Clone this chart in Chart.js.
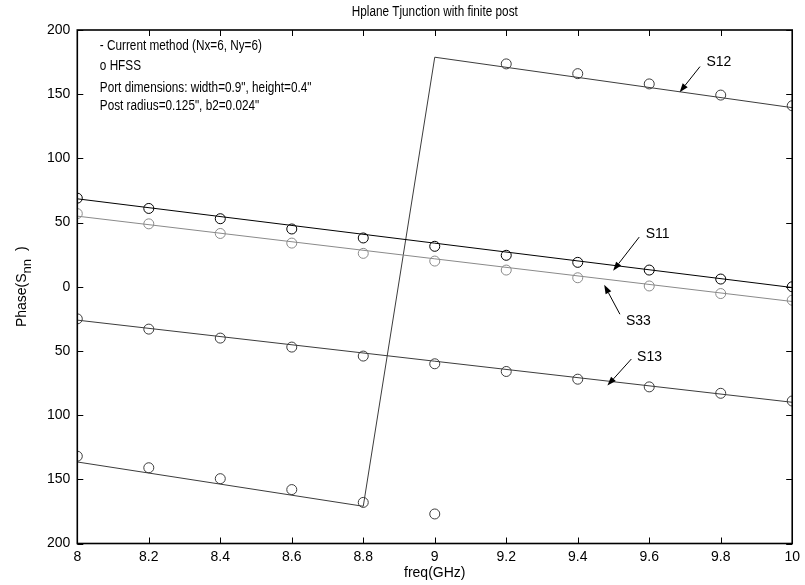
<!DOCTYPE html>
<html><head><meta charset="utf-8">
<script src="https://cdn.jsdelivr.net/npm/chart.js@4/dist/chart.umd.min.js"></script>
<style>html,body{margin:0;padding:0;background:#fff}#wrap{width:805px;height:585px;position:relative}</style>
</head><body><div id="wrap"><canvas id="c" width="805" height="585"></canvas></div>
<script>
// ---- data ----
const freqs = [8.0, 8.2, 8.4, 8.6, 8.8, 9.0, 9.2, 9.4, 9.6, 9.8, 10.0];
const hfssS11 = [69, 61, 53, 45, 38, 31.5, 24.5, 19, 13, 6, 0];
const hfssS33 = [57, 49, 41.5, 34, 26, 20, 13, 7, 0.6, -5.3, -10.5];
const hfssS13 = [-25, -33, -40, -47, -54, -60, -66, -72, -78, -83, -89];
const hfssS12 = [-132, -141, -149.5, -158, -168, -177, 173.6, 166, 158, 149.3, 141];
const modelFreqs = [8.0, 10.0];
const modelS11 = [68.5, -0.6];
const modelS33 = [55, -11.5];
const modelS13 = [-26, -90];
const modelS12Freqs = [8.0, 8.8, 9.0, 10.0];
const modelS12 = [-136.5, -171, 178.8, 139.5];
const xTicks = [8, 8.2, 8.4, 8.6, 8.8, 9, 9.2, 9.4, 9.6, 9.8, 10];
const yTicks = [-200, -150, -100, -50, 0, 50, 100, 150, 200];

const titleText = 'Hplane Tjunction with finite post';
const xTitle = 'freq(GHz)';
const infoLines = ['- Current method (Nx=6, Ny=6)', 'o HFSS', 'Port dimensions: width=0.9", height=0.4"', 'Post radius=0.125", b2=0.024"'];
// annotation anchors in data coordinates
const infoAnchors = [[8.063, 187.5], [8.063, 172], [8.063, 155], [8.063, 141]];
const arrows = [
  {label: 'S12', text: [9.76, 175], tail: [9.742, 171.5], head: [9.685, 151.5]},
  {label: 'S11', text: [9.59, 40.8], tail: [9.572, 38.7], head: [9.499, 12.5]},
  {label: 'S33', text: [9.535, -27.0], tail: [9.518, -21.4], head: [9.474, 1.5]},
  {label: 'S13', text: [9.566, -55.0], tail: [9.550, -56.3], head: [9.483, -77.0]}
];

const FONT = "'Liberation Sans', Arial, sans-serif";
const NARROW = 0.84;
const pts = (xs, ys) => xs.map((x, i) => ({x: x, y: ys[i]}));

function lineDs(xs, ys, color) {
  return {data: pts(xs, ys), showLine: true, borderColor: color, borderWidth: 1, pointRadius: 0, fill: false, tension: 0};
}
function circDs(ys, color) {
  return {data: pts(freqs, ys), showLine: false, pointStyle: 'circle', pointRadius: 5, pointBorderWidth: 1,
    borderColor: color, backgroundColor: 'rgba(0,0,0,0)', pointBackgroundColor: 'rgba(0,0,0,0)', pointBorderColor: color};
}
function narrowText(ctx, s, x, y, align) {
  ctx.save();
  ctx.translate(x, y);
  ctx.scale(NARROW, 1);
  ctx.textAlign = align;
  ctx.fillText(s, 0, 0);
  ctx.restore();
}

const framePlugin = {
  id: 'frame',
  afterDraw(chart) {
    const ctx = chart.ctx, a = chart.chartArea, xs = chart.scales.x, ys = chart.scales.y;
    ctx.save();
    ctx.strokeStyle = '#000';
    ctx.lineWidth = 1;
    xs.ticks.forEach(t => {
      const px = Math.round(xs.getPixelForValue(t.value)) + 0.5;
      ctx.beginPath(); ctx.moveTo(px, a.bottom); ctx.lineTo(px, a.bottom - 6); ctx.stroke();
      ctx.beginPath(); ctx.moveTo(px, a.top); ctx.lineTo(px, a.top + 6); ctx.stroke();
    });
    ys.ticks.forEach(t => {
      const py = Math.round(ys.getPixelForValue(t.value)) + 0.5;
      ctx.beginPath(); ctx.moveTo(a.left, py); ctx.lineTo(a.left + 6, py); ctx.stroke();
      ctx.beginPath(); ctx.moveTo(a.right, py); ctx.lineTo(a.right - 6, py); ctx.stroke();
    });
    ctx.lineWidth = 1.6;
    ctx.strokeRect(a.left, a.top, a.right - a.left, a.bottom - a.top);
    ctx.fillStyle = '#000';
    // title centred over the plot
    ctx.font = '14px ' + FONT;
    ctx.textBaseline = 'middle';
    narrowText(ctx, titleText, (a.left + a.right) / 2, 12, 'center');
    // y axis title with subscript
    ctx.translate(22, (a.top + a.bottom) / 2);
    ctx.rotate(-Math.PI / 2);
    ctx.textBaseline = 'middle';
    const p1 = 'Phase(S', sub = 'nn', p2 = ' )';
    ctx.font = '14px ' + FONT; const w1 = ctx.measureText(p1).width;
    ctx.font = '13px ' + FONT; const ws = ctx.measureText(sub).width;
    ctx.font = '14px ' + FONT; const w2 = ctx.measureText(p2).width;
    const tot = w1 + ws + w2 + 4;
    const x0 = -tot / 2;
    ctx.textAlign = 'left';
    ctx.font = '14px ' + FONT;
    ctx.fillText(p1, x0, 0);
    ctx.font = '13px ' + FONT;
    ctx.fillText(sub, x0 + w1, 5);
    ctx.font = '14px ' + FONT;
    ctx.fillText(p2, x0 + w1 + ws + 4, 0);
    ctx.restore();
  },
  afterDatasetsDraw(chart) {
    const ctx = chart.ctx, xs = chart.scales.x, ys = chart.scales.y;
    const P = d => [xs.getPixelForValue(d[0]), ys.getPixelForValue(d[1])];
    ctx.save();
    ctx.fillStyle = '#000';
    ctx.font = '14px ' + FONT;
    ctx.textBaseline = 'middle';
    infoLines.forEach((s, i) => { const p = P(infoAnchors[i]); narrowText(ctx, s, p[0], p[1], 'left'); });
    arrows.forEach(ar => {
      const t = P(ar.text), s = P(ar.tail), h = P(ar.head);
      ctx.font = '14px ' + FONT;
      ctx.textAlign = 'left';
      ctx.fillText(ar.label, t[0], t[1]);
      const ang = Math.atan2(h[1] - s[1], h[0] - s[0]);
      const L = 9, W = 3.2;
      const bx = h[0] - L * Math.cos(ang), by = h[1] - L * Math.sin(ang);
      ctx.strokeStyle = '#000'; ctx.lineWidth = 1;
      ctx.beginPath(); ctx.moveTo(s[0], s[1]); ctx.lineTo(bx, by); ctx.stroke();
      ctx.beginPath();
      ctx.moveTo(h[0], h[1]);
      ctx.lineTo(bx + W * Math.sin(ang), by - W * Math.cos(ang));
      ctx.lineTo(bx - W * Math.sin(ang), by + W * Math.cos(ang));
      ctx.closePath(); ctx.fill();
    });
    ctx.restore();
  }
};

new Chart(document.getElementById('c').getContext('2d'), {
  type: 'scatter',
  data: {datasets: [
    lineDs(modelFreqs, modelS11, '#000000'),
    lineDs(modelFreqs, modelS33, '#8a8a8a'),
    lineDs(modelFreqs, modelS13, '#3c3c3c'),
    lineDs(modelS12Freqs, modelS12, '#3c3c3c'),
    circDs(hfssS11, '#000000'),
    circDs(hfssS33, '#8a8a8a'),
    circDs(hfssS13, '#3c3c3c'),
    circDs(hfssS12, '#3c3c3c')
  ]},
  options: {
    responsive: false, animation: false, devicePixelRatio: 1,
    layout: {padding: {left: 0, right: 10.5, top: 30, bottom: 0}},
    plugins: {legend: {display: false}, tooltip: {enabled: false}, title: {display: false}},
    scales: {
      x: {type: 'linear', min: 8, max: 10,
        afterBuildTicks: s => { s.ticks = xTicks.map(v => ({value: v})); },
        afterFit: s => { s.height = 41.5; },
        grid: {display: false, drawTicks: false}, border: {display: false},
        ticks: {color: '#000', font: {family: FONT, size: 14}, padding: 5, maxRotation: 0, autoSkip: false,
          callback: v => String(Math.round(v * 10) / 10)},
        title: {display: true, text: xTitle, color: '#000', font: {family: FONT, size: 14}, padding: {top: 0, bottom: 3}}
      },
      y: {type: 'linear', min: -200, max: 200,
        afterBuildTicks: s => { s.ticks = yTicks.map(v => ({value: v})); },
        afterFit: s => { s.width = 77.3; },
        grid: {display: false, drawTicks: false}, border: {display: false},
        ticks: {color: '#000', font: {family: FONT, size: 14}, padding: 7, autoSkip: false, callback: v => String(Math.abs(v))}
      }
    }
  },
  plugins: [framePlugin]
});
</script></body></html>
